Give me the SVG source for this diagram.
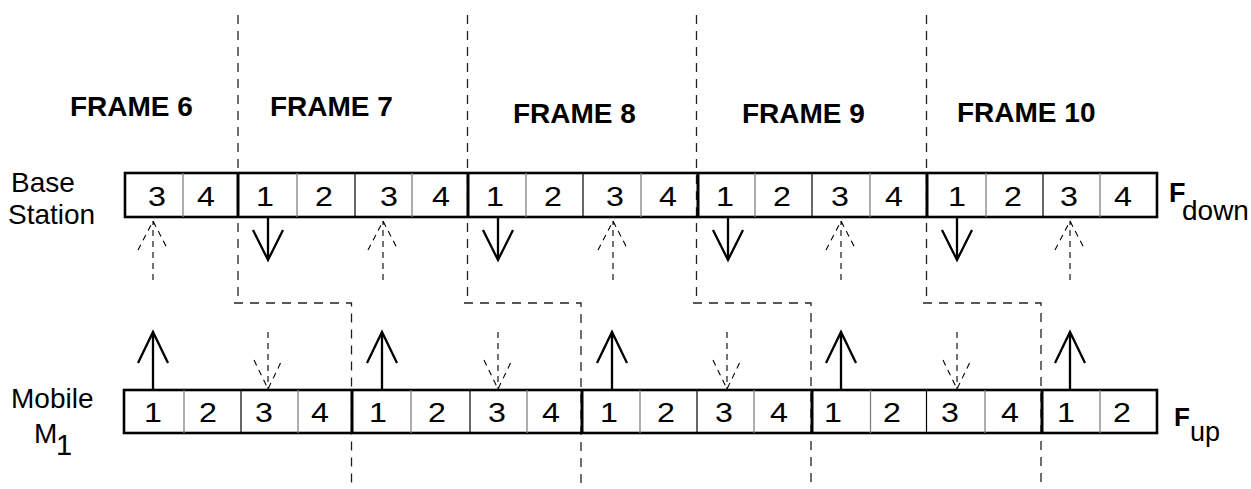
<svg xmlns="http://www.w3.org/2000/svg" width="1251" height="489" viewBox="0 0 1251 489">
<style>
.bg{fill:#fff}
.bar{fill:none;stroke:#000;stroke-width:2.6}
.dg{stroke:#808080;stroke-width:1.3}
.db{stroke:#000;stroke-width:1.2}
.fb{stroke:#000;stroke-width:3}
.t{font-family:"Liberation Sans",Arial,sans-serif;fill:#000}
.num{font-size:28px;text-anchor:middle}
.lbl{font-size:28px}
.frm{font-size:28px;font-weight:bold}
.sol{stroke:#000;stroke-width:2.3;fill:none}
.dsh{stroke:#000;stroke-width:1.1;stroke-dasharray:6 5;fill:none}
.bnd{stroke:#222;stroke-width:1.3;stroke-dasharray:9 7;fill:none}
</style>
<rect class="bg" x="0" y="0" width="1251" height="489"/>

<g id="frame-labels" class="t frm">
<text x="70" y="115.5">FRAME 6</text>
<text x="270" y="115.5">FRAME 7</text>
<text x="513" y="123">FRAME 8</text>
<text x="742" y="122.5">FRAME 9</text>
<text x="957" y="122">FRAME 10</text>
</g>

<g id="base-station-label" class="t lbl">
<text x="11" y="192">Base</text>
<text x="8" y="223.5">Station</text>
</g>

<g id="mobile-label" class="t lbl">
<text x="11" y="408">Mobile</text>
<text x="34" y="443">M</text>
<text x="56" y="455" font-size="29">1</text>
</g>

<g id="fdown-label" class="t">
<text x="1169" y="202" font-size="27" font-weight="bold">F</text>
<text x="1182" y="220" font-size="28">down</text>
</g>

<g id="fup-label" class="t">
<text x="1174" y="426" font-size="26" font-weight="bold">F</text>
<text x="1190" y="440.5" font-size="27">up</text>
</g>

<g id="connectors">
<g id="frame-boundaries">
<path class="bnd" d="M238 15V303M234 303H351.5V489"/>
<path class="bnd" d="M467.5 15V303M464 303H581V489"/>
<path class="bnd" d="M696.5 15V303M693 303H811V489"/>
<path class="bnd" d="M926.5 15V303M923 303H1041V489"/>
</g>
<g id="down-arrows-base">
<path class="sol" d="M268 217V260M253 230L268 260L283 230"/>
<path class="sol" d="M498 217V260M483 230L498 260L513 230"/>
<path class="sol" d="M728 217V260M713 230L728 260L743 230"/>
<path class="sol" d="M957 217V260M942 230L957 260L972 230"/>
</g>
<g id="up-arrows-base-dashed">
<path class="dsh" d="M153 280V221M138 250L153 221L168 250"/>
<path class="dsh" d="M383 280V221M368 250L383 221L398 250"/>
<path class="dsh" d="M613 280V221M598 250L613 221L628 250"/>
<path class="dsh" d="M841 280V221M826 250L841 221L856 250"/>
<path class="dsh" d="M1070 280V221M1055 250L1070 221L1085 250"/>
</g>
<g id="up-arrows-mobile">
<path class="sol" d="M153 390V332M138 363L153 332L168 363"/>
<path class="sol" d="M382 390V332M367 363L382 332L397 363"/>
<path class="sol" d="M612 390V332M597 363L612 332L627 363"/>
<path class="sol" d="M841 390V332M826 363L841 332L856 363"/>
<path class="sol" d="M1070 390V332M1055 363L1070 332L1085 363"/>
</g>
<g id="down-arrows-mobile-dashed">
<path class="dsh" d="M268 332V389M254 360L268 389L282 360"/>
<path class="dsh" d="M498 332V389M484 360L498 389L512 360"/>
<path class="dsh" d="M727 332V389M713 360L727 389L741 360"/>
<path class="dsh" d="M957 332V389M943 360L957 389L971 360"/>
</g>
</g>

<g id="base-station-bar">
<rect class="bar" x="125" y="173" width="1032" height="44"/>
<g>
<line class="dg" x1="183" y1="173" x2="183" y2="217"/>
<line class="dg" x1="297" y1="173" x2="297" y2="217"/>
<line class="dg" x1="412" y1="173" x2="412" y2="217"/>
<line class="dg" x1="526" y1="173" x2="526" y2="217"/>
<line class="dg" x1="641" y1="173" x2="641" y2="217"/>
<line class="dg" x1="755" y1="173" x2="755" y2="217"/>
<line class="dg" x1="870" y1="173" x2="870" y2="217"/>
<line class="dg" x1="986" y1="173" x2="986" y2="217"/>
<line class="dg" x1="1100" y1="173" x2="1100" y2="217"/>
<line class="db" x1="355" y1="173" x2="355" y2="217"/>
<line class="db" x1="583" y1="173" x2="583" y2="217"/>
<line class="db" x1="812" y1="173" x2="812" y2="217"/>
<line class="db" x1="1043" y1="173" x2="1043" y2="217"/>
<line class="fb" x1="238" y1="172" x2="238" y2="218"/>
<line class="fb" x1="468" y1="172" x2="468" y2="218"/>
<line class="fb" x1="698" y1="172" x2="698" y2="218"/>
<line class="fb" x1="927" y1="172" x2="927" y2="218"/>
</g>
<g class="t num">
<text transform="translate(157 205.5) scale(1.15 1)">3</text>
<text transform="translate(206 205.5) scale(1.15 1)">4</text>
<text transform="translate(265 205.5) scale(1.15 1)">1</text>
<text transform="translate(324 205.5) scale(1.15 1)">2</text>
<text transform="translate(389 205.5) scale(1.15 1)">3</text>
<text transform="translate(441 205.5) scale(1.15 1)">4</text>
<text transform="translate(495 205.5) scale(1.15 1)">1</text>
<text transform="translate(553 205.5) scale(1.15 1)">2</text>
<text transform="translate(615 205.5) scale(1.15 1)">3</text>
<text transform="translate(668 205.5) scale(1.15 1)">4</text>
<text transform="translate(725 205.5) scale(1.15 1)">1</text>
<text transform="translate(782 205.5) scale(1.15 1)">2</text>
<text transform="translate(840 205.5) scale(1.15 1)">3</text>
<text transform="translate(894 205.5) scale(1.15 1)">4</text>
<text transform="translate(957 205.5) scale(1.15 1)">1</text>
<text transform="translate(1013 205.5) scale(1.15 1)">2</text>
<text transform="translate(1069 205.5) scale(1.15 1)">3</text>
<text transform="translate(1123 205.5) scale(1.15 1)">4</text>
</g>
</g>

<g id="mobile-bar">
<rect class="bar" x="124" y="390" width="1033" height="43"/>
<g>
<line class="dg" x1="184" y1="390" x2="184" y2="433"/>
<line class="dg" x1="298" y1="390" x2="298" y2="433"/>
<line class="dg" x1="411" y1="390" x2="411" y2="433"/>
<line class="dg" x1="527" y1="390" x2="527" y2="433"/>
<line class="dg" x1="640" y1="390" x2="640" y2="433"/>
<line class="dg" x1="754" y1="390" x2="754" y2="433"/>
<line class="dg" x1="870.5" y1="390" x2="870.5" y2="433"/>
<line class="dg" x1="985" y1="390" x2="985" y2="433"/>
<line class="dg" x1="1100" y1="390" x2="1100" y2="433"/>
<line class="db" x1="241" y1="390" x2="241" y2="433"/>
<line class="db" x1="470" y1="390" x2="470" y2="433"/>
<line class="db" x1="697" y1="390" x2="697" y2="433"/>
<line class="db" x1="926.5" y1="390" x2="926.5" y2="433"/>
<line class="fb" x1="352" y1="389" x2="352" y2="434"/>
<line class="fb" x1="582" y1="389" x2="582" y2="434"/>
<line class="fb" x1="812" y1="389" x2="812" y2="434"/>
<line class="fb" x1="1042" y1="389" x2="1042" y2="434"/>
</g>
<g class="t num">
<text transform="translate(153 421.5) scale(1.15 1)">1</text>
<text transform="translate(208 421.5) scale(1.15 1)">2</text>
<text transform="translate(264 421.5) scale(1.15 1)">3</text>
<text transform="translate(320 421.5) scale(1.15 1)">4</text>
<text transform="translate(378 421.5) scale(1.15 1)">1</text>
<text transform="translate(437 421.5) scale(1.15 1)">2</text>
<text transform="translate(497 421.5) scale(1.15 1)">3</text>
<text transform="translate(551 421.5) scale(1.15 1)">4</text>
<text transform="translate(609 421.5) scale(1.15 1)">1</text>
<text transform="translate(666 421.5) scale(1.15 1)">2</text>
<text transform="translate(724 421.5) scale(1.15 1)">3</text>
<text transform="translate(779 421.5) scale(1.15 1)">4</text>
<text transform="translate(833 421.5) scale(1.15 1)">1</text>
<text transform="translate(892 421.5) scale(1.15 1)">2</text>
<text transform="translate(950 421.5) scale(1.15 1)">3</text>
<text transform="translate(1010 421.5) scale(1.15 1)">4</text>
<text transform="translate(1066 421.5) scale(1.15 1)">1</text>
<text transform="translate(1122 421.5) scale(1.15 1)">2</text>
</g>
</g>
</svg>
